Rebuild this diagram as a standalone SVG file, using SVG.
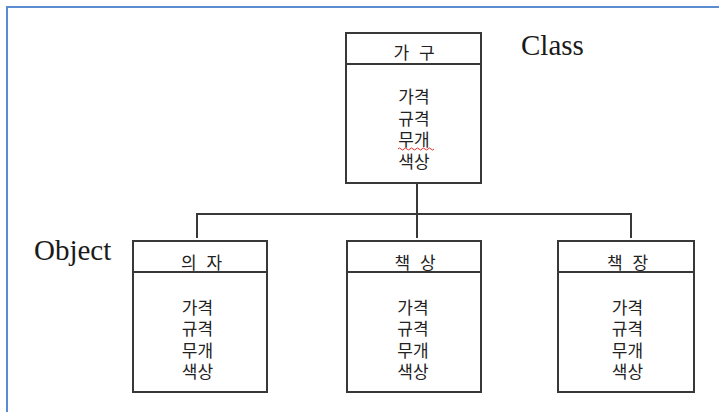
<svg xmlns="http://www.w3.org/2000/svg" width="719" height="412" viewBox="0 0 719 412">
<style>
.box{fill:#fff;stroke:#383838;stroke-width:2}
.div{stroke:#383838;stroke-width:2}
.con{fill:none;stroke:#383838;stroke-width:2}
.hd{font-family:"Noto Sans CJK KR",sans-serif;font-size:17px;fill:#222;text-anchor:middle;letter-spacing:3px}
.bd{font-family:"Noto Sans CJK KR",sans-serif;font-size:17px;fill:#222;text-anchor:middle}
.lbl{font-family:"Liberation Serif",serif;font-size:29px;fill:#1a1a1a}
</style>
<rect width="719" height="412" fill="#fff"/>
<path d="M7 412 V7 H719" fill="none" stroke="#5B8BD0" stroke-width="2"/>
<g id="connectors">
<path class="con" d="M417 183 V238"/>
<path class="con" d="M197 238 V214 H631 V238"/>
</g>
<g id="class-gagu">
<rect class="box" x="346" y="33" width="135" height="150"/>
<line class="div" x1="346" y1="64" x2="481" y2="64"/>
<text class="hd" x="415.5" y="58.5">가 구</text>
<text class="bd" x="414" y="103">가격<tspan x="414" dy="21.5">규격</tspan><tspan x="414" dy="21.5">무개</tspan><tspan x="414" dy="21.5">색상</tspan></text>
<path d="M398 149 q1.5 -2 3 0 t3 0 t3 0 t3 0 t3 0 t3 0 t3 0 t3 0 t3 0 t3 0 t3 0 t3 0" fill="none" stroke="#e03030" stroke-width="1"/>
</g>
<g id="obj-uija">
<rect class="box" x="133" y="241" width="134" height="151"/>
<line class="div" x1="133" y1="272" x2="267" y2="272"/>
<text class="hd" x="203" y="268.5">의 자</text>
<text class="bd" x="197.5" y="313.5">가격<tspan x="197.5" dy="21.5">규격</tspan><tspan x="197.5" dy="21.5">무개</tspan><tspan x="197.5" dy="21.5">색상</tspan></text>
</g>
<g id="obj-chaeksang">
<rect class="box" x="347" y="241" width="134" height="151"/>
<line class="div" x1="347" y1="272" x2="481" y2="272"/>
<text class="hd" x="416.5" y="268.5">책 상</text>
<text class="bd" x="413" y="313.5">가격<tspan x="413" dy="21.5">규격</tspan><tspan x="413" dy="21.5">무개</tspan><tspan x="413" dy="21.5">색상</tspan></text>
</g>
<g id="obj-chaekjang">
<rect class="box" x="558" y="241" width="136" height="151"/>
<line class="div" x1="558" y1="272" x2="694" y2="272"/>
<text class="hd" x="629" y="268.5">책 장</text>
<text class="bd" x="627.5" y="313.5">가격<tspan x="627.5" dy="21.5">규격</tspan><tspan x="627.5" dy="21.5">무개</tspan><tspan x="627.5" dy="21.5">색상</tspan></text>
</g>
<g id="label-class"><text class="lbl" x="521" y="55">Class</text></g>
<g id="label-object"><text class="lbl" x="34" y="260">Object</text></g>
</svg>
